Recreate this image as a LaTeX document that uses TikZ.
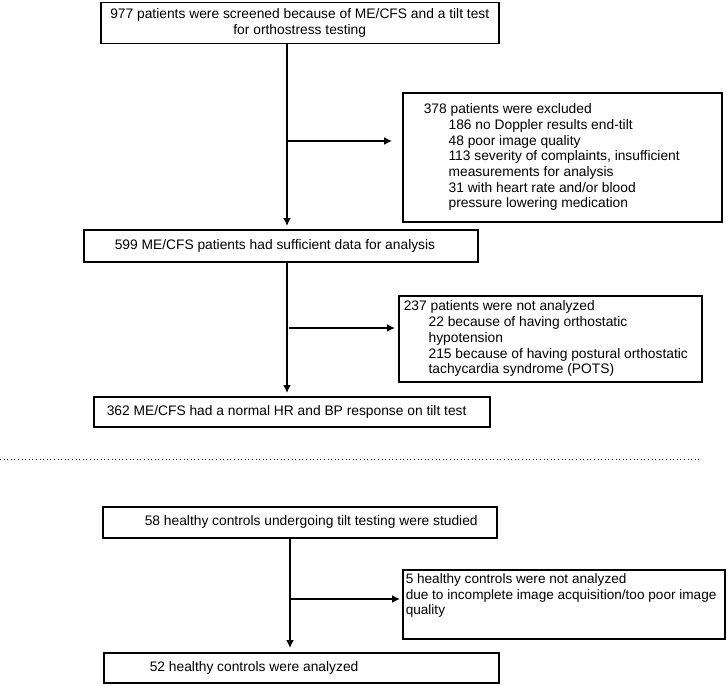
\documentclass[tikz,border=0pt]{standalone}
\usepackage{fontspec}
\setmainfont{Liberation Sans}
\usepackage{tikz}
\usetikzlibrary{arrows.meta}
\tikzset{
  flowbox/.style={draw, line width=1.5pt, anchor=north west, align=flush left, inner ysep=2pt},
  flowarr/.style={-{Latex[length=8pt,width=8pt]}, line width=1.8pt},
}

\begin{document}
\begin{tikzpicture}[x=1pt,y=-1pt,font=\fontsize{13.8}{15.7}\selectfont]
			\useasboundingbox (0,0) rectangle (727,685);
			% draw boxes, patients
			\node[flowbox, align=flush center, inner xsep=4pt, text width=390pt, minimum height=41pt] (screen) at (100,2)
				{977 patients were screened because of ME/CFS and a tilt test\\ for orthostress testing};
			\node[flowbox, inner xsep=21pt, text width=277pt, minimum height=129pt] (excl) at (402,92)
				{378 patients were excluded\\
				\hspace*{1.8em}186 no Doppler results end-tilt\\
				\hspace*{1.8em}48 poor image quality\\
				\hspace*{1.8em}113 severity of complaints, insufficient\\
				\hspace*{1.8em}measurements for analysis\\
				\hspace*{1.8em}31 with heart rate and/or blood\\
				\hspace*{1.8em}pressure lowering medication};
			\node[flowbox, inner xsep=31pt, text width=332pt, minimum height=32pt] (suff) at (83,229)
				{599 ME/CFS patients had sufficient data for analysis};
			\node[flowbox, inner xsep=5pt, text width=293pt, minimum height=86pt] (notan) at (398,295)
				{237 patients were not analyzed\\
				\hspace*{1.8em}22 because of having orthostatic\\
				\hspace*{1.8em}hypotension\\
				\hspace*{1.8em}215 because of having postural orthostatic\\
				\hspace*{1.8em}tachycardia syndrome (POTS)};
			\node[flowbox, inner xsep=13pt, text width=370pt, minimum height=30pt] (normal) at (93,396)
				{362 ME/CFS had a normal HR and BP response on tilt test};
			
			% draw boxes, controls
			\node[flowbox, inner xsep=3pt, text width=388pt, minimum height=31pt] (hc) at (102,506)
				{\hspace*{39pt}58 healthy controls undergoing tilt testing were studied};
			\node[flowbox, font=\fontsize{13.6}{15.5}\selectfont, inner xsep=3pt, text width=316pt, minimum height=69pt] (hcex) at (402,569)
				{5 healthy controls were not analyzed\\
				due to incomplete image acquisition/too poor image\\
				quality\\ \strut};
			\node[flowbox, inner xsep=3pt, text width=389pt, minimum height=30pt] (anal) at (103,652)
				{\hspace*{43pt}52 healthy controls were analyzed};
			
			% draw arrows
			\coordinate (trunkA) at (287,0);
			\coordinate (trunkB) at (287,0);
			\coordinate (trunkC) at (290,0);
			\coordinate (brA) at (287,141);
			\coordinate (brB) at (289,328);
			\coordinate (brC) at (290,599);
			\draw[flowarr, shorten >=3pt] (trunkA |- screen.south) -- (trunkA |- suff.north);
			\draw[flowarr, shorten >=10pt] (brA) -- (brA -| excl.west);
			\draw[flowarr, shorten >=3pt] (trunkB |- suff.south) -- (trunkB |- normal.north);
			\draw[flowarr, shorten >=3pt] (brB) -- (brB -| notan.west);
			\draw[flowarr, shorten >=4pt] (trunkC |- hc.south) -- (trunkC |- anal.north);
			\draw[flowarr, shorten >=2pt] (brC) -- (brC -| hcex.west);
			
			% dotted separator
			\coordinate (sepL) at (0,459);
			\coordinate (sepR) at (701,459);
			\draw[line width=1pt, dash pattern=on 1pt off 2.6pt] (sepL) -- (sepR);
		\end{tikzpicture}
\end{document}
